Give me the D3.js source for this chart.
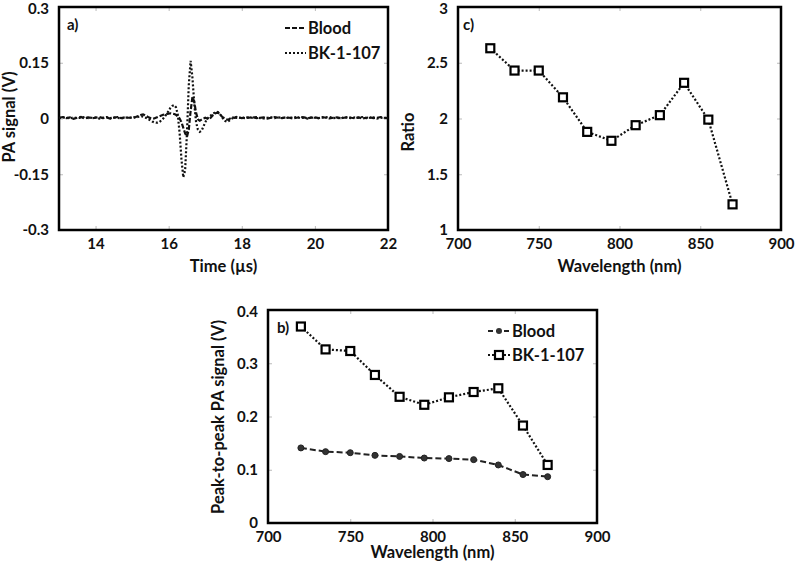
<!DOCTYPE html>
<html><head><meta charset="utf-8">
<script src="https://cdn.jsdelivr.net/npm/d3@7"></script>
<style>
body{margin:0;background:#fff;}
svg text{font-family:Lato,"Open Sans",sans-serif;font-weight:700;fill:#111;}
</style></head>
<body><svg id="c" width="800" height="563"></svg>
<script>
// ---------- DATA ----------
const timeUs = [13.0,13.1,13.2,13.3,13.4,13.5,13.6,13.7,13.8,13.9,14.0,14.1,14.2,14.3,14.4,14.5,14.6,14.7,14.8,14.9,
15.00,15.05,15.10,15.15,15.20,15.25,15.30,15.35,15.40,15.45,15.50,15.55,15.60,15.65,15.70,15.75,15.80,15.85,15.90,15.95,
16.00,16.05,16.10,16.15,16.20,16.25,16.30,16.35,16.40,16.45,16.50,16.55,16.60,16.65,16.70,16.75,16.80,16.85,16.90,16.95,
17.00,17.05,17.10,17.15,17.20,17.25,17.30,17.35,17.40,17.45,17.50,17.55,17.60,17.65,17.70,17.75,17.80,17.85,17.90,17.95,
18.0,18.1,18.2,18.3,18.4,18.5,18.6,18.7,18.8,18.9,19.0,19.1,19.2,19.3,19.4,19.5,19.6,19.7,19.8,19.9,
20.0,20.1,20.2,20.3,20.4,20.5,20.6,20.7,20.8,20.9,21.0,21.1,21.2,21.3,21.4,21.5,21.6,21.7,21.8,21.9,22.0];
const bloodSignal = [0.002,0.004,0.001,0.003,-0.001,0.002,0.004,0.000,0.003,0.001,0.002,0.004,0.001,0.003,0.000,0.002,0.004,0.001,0.003,0.002,
0.002,0.003,0.004,0.006,0.008,0.010,0.011,0.009,0.006,0.003,0.001,-0.001,0.000,0.002,0.004,0.006,0.008,0.010,0.011,0.012,
0.013,0.014,0.013,0.012,0.010,0.006,0.000,-0.010,-0.025,-0.040,-0.049,-0.030,0.020,0.058,0.045,0.015,-0.002,-0.006,-0.003,0.000,
0.002,0.000,-0.002,0.002,0.008,0.012,0.015,0.016,0.012,0.006,0.002,-0.001,-0.003,-0.002,0.001,0.003,0.002,0.004,0.003,0.002,
0.001,0.003,0.002,0.004,0.001,0.002,0.003,0.000,0.002,0.004,0.002,0.001,0.003,0.002,0.000,0.002,0.004,0.003,0.001,0.002,
0.003,0.001,0.004,0.002,0.000,0.002,0.003,0.001,0.002,0.004,0.002,0.001,0.003,0.000,0.002,0.003,0.001,0.002,0.004,0.002,0.001];
const bkSignal = [0.001,0.003,0.002,0.000,0.003,0.001,0.002,0.004,0.001,0.002,0.003,0.000,0.002,0.004,0.001,0.003,0.002,0.000,0.002,0.003,
0.002,0.003,0.002,0.004,0.005,0.006,0.005,0.003,0.001,-0.002,-0.005,-0.008,-0.010,-0.011,-0.011,-0.009,-0.005,0.000,0.006,0.013,
0.021,0.029,0.034,0.036,0.030,0.010,-0.040,-0.110,-0.158,-0.140,-0.040,0.090,0.155,0.110,0.040,-0.010,-0.030,-0.036,-0.033,-0.022,
-0.010,-0.002,0.004,0.008,0.012,0.015,0.018,0.017,0.012,0.005,-0.002,-0.007,-0.009,-0.006,-0.002,0.001,0.003,0.002,0.003,0.002,
0.002,0.001,0.003,0.002,0.004,0.001,0.000,0.002,0.003,0.001,0.003,0.002,0.001,0.003,0.002,0.004,0.001,0.002,0.000,0.003,
0.002,0.001,0.002,0.003,0.004,0.001,0.002,0.000,0.003,0.002,0.001,0.003,0.002,0.004,0.001,0.002,0.003,0.000,0.002,0.001,0.003];

const wavelengths = [720,735,750,765,780,795,810,825,840,855,870];
const bloodP2P = [0.141,0.134,0.132,0.127,0.125,0.122,0.121,0.119,0.109,0.091,0.087];
const bkP2P    = [0.369,0.326,0.323,0.278,0.237,0.222,0.236,0.246,0.253,0.183,0.109];
const ratio    = [2.63,2.43,2.43,2.19,1.88,1.80,1.94,2.03,2.32,1.99,1.23];

const timeTicks = [14,16,18,20,22];
const signalTicks = [-0.3,-0.15,0,0.15,0.3];
const signalTickLabels = ["-0.3","-0.15","0","0.15","0.3"];
const wlTicks = [700,750,800,850,900];
const ratioTicks = [1,1.5,2,2.5,3];
const ratioTickLabels = ["1","1.5","2","2.5","3"];
const p2pTicks = [0,0.1,0.2,0.3,0.4];
const p2pTickLabels = ["0","0.1","0.2","0.3","0.4"];
const seriesNames = ["Blood","BK-1-107"];

// ---------- DRAW ----------
const svg = d3.select("#c");
const FS = 15, FT = 16.5;
const dashBlood = "6,3", dotBK = "2,2";

function panel(o){
  const g = svg.append("g");
  const x = d3.scaleLinear().domain(o.xd).range([o.l,o.r]);
  const y = d3.scaleLinear().domain(o.yd).range([o.b,o.t]);
  const tickStyle = sel => { sel.select(".domain").remove(); sel.selectAll(".tick line").attr("stroke","#bbb").attr("stroke-width",1); };
  g.append("g").attr("transform",`translate(0,${o.b})`)
    .call(d3.axisBottom(x).tickValues(o.xt).tickSize(-4).tickPadding(8).tickFormat(d3.format("d")))
    .call(tickStyle).call(s=>s.selectAll("text").attr("font-size",FS).attr("dy","0.71em"));
  g.append("g").attr("transform",`translate(0,${o.t})`)
    .call(d3.axisTop(x).tickValues(o.xt).tickSize(-4).tickFormat(""))
    .call(tickStyle);
  g.append("g").attr("transform",`translate(${o.l},0)`)
    .call(d3.axisLeft(y).tickValues(o.yt).tickSize(-4).tickPadding(10).tickFormat((d,i)=>o.ytl[i]))
    .call(tickStyle).call(s=>s.selectAll("text").attr("font-size",FS).attr("dy",(d,i)=>i===o.yt.length-1?"0.42em":"0.32em"));
  g.append("g").attr("transform",`translate(${o.r},0)`)
    .call(d3.axisRight(y).tickValues(o.yt).tickSize(-4).tickFormat(""))
    .call(tickStyle);
  g.append("rect").attr("x",o.l).attr("y",o.t).attr("width",o.r-o.l).attr("height",o.b-o.t)
    .attr("fill","none").attr("stroke","#000").attr("stroke-width",2.5);
  g.append("text").attr("x",(o.l+o.r)/2).attr("y",o.xlabY).attr("text-anchor","middle").attr("font-size",FT).text(o.xlab);
  g.append("text").attr("transform",`translate(${o.ylabX},${o.ylabYc}) rotate(-90)`).attr("text-anchor","middle")
    .attr("font-size",FT).text(o.ylab);
  g.append("text").attr("x",o.tagX).attr("y",o.tagY).attr("font-size",FS).text(o.tag);
  return {g,x,y};
}

function square(g,cx,cy){
  g.append("rect").attr("x",cx-4).attr("y",cy-4).attr("width",8).attr("height",8)
   .attr("fill","#fff").attr("stroke","#000").attr("stroke-width",2.2);
}

// Panel a
{
  const p = panel({l:59,r:388,t:7,b:230,xd:[13,22],yd:[-0.3,0.3],xt:timeTicks,yt:signalTicks,ytl:signalTickLabels,
    xlab:"Time (µs)",xlabY:272,ylab:"PA signal (V)",ylabX:15,ylabYc:117,tag:"a)",tagX:67,tagY:30});
  const line = d3.line().x((d,i)=>p.x(timeUs[i])).y(d=>p.y(d));
  p.g.append("path").datum(bloodSignal).attr("d",line).attr("fill","none").attr("stroke","#111")
    .attr("stroke-width",2.2).attr("stroke-dasharray","5,2");
  p.g.append("path").datum(bkSignal).attr("d",line).attr("fill","none").attr("stroke","#111")
    .attr("stroke-width",2.2).attr("stroke-dasharray",dotBK);
  const ly = [28,53], da = ["5,2",dotBK];
  seriesNames.forEach((n,i)=>{
    p.g.append("line").attr("x1",285).attr("x2",306).attr("y1",ly[i]).attr("y2",ly[i])
      .attr("stroke","#111").attr("stroke-width",2).attr("stroke-dasharray",da[i]);
    p.g.append("text").attr("x",308).attr("y",ly[i]).attr("dy","0.36em").attr("font-size",FT).text(n);
  });
}

// Panel c
{
  const p = panel({l:458,r:781,t:7,b:230,xd:[700,900],yd:[1,3],xt:wlTicks,yt:ratioTicks,ytl:ratioTickLabels,
    xlab:"Wavelength (nm)",xlabY:272,ylab:"Ratio",ylabX:414,ylabYc:132,tag:"c)",tagX:463,tagY:30});
  const line = d3.line().x((d,i)=>p.x(wavelengths[i])).y(d=>p.y(d));
  p.g.append("path").datum(ratio).attr("d",line).attr("fill","none").attr("stroke","#111")
    .attr("stroke-width",2.2).attr("stroke-dasharray",dotBK);
  ratio.forEach((v,i)=>square(p.g,p.x(wavelengths[i]),p.y(v)));
}

// Panel b
{
  const p = panel({l:268,r:597,t:310,b:523,xd:[700,900],yd:[0,0.4],xt:wlTicks,yt:p2pTicks,ytl:p2pTickLabels,
    xlab:"Wavelength (nm)",xlabY:558,ylab:"Peak-to-peak PA signal (V)",ylabX:224,ylabYc:417,tag:"b)",tagX:277,tagY:333});
  const line = d3.line().x((d,i)=>p.x(wavelengths[i])).y(d=>p.y(d));
  p.g.append("path").datum(bloodP2P).attr("d",line).attr("fill","none").attr("stroke","#222")
    .attr("stroke-width",2).attr("stroke-dasharray",dashBlood);
  p.g.append("path").datum(bkP2P).attr("d",line).attr("fill","none").attr("stroke","#111")
    .attr("stroke-width",2.2).attr("stroke-dasharray",dotBK);
  bloodP2P.forEach((v,i)=>p.g.append("circle").attr("cx",p.x(wavelengths[i])).attr("cy",p.y(v)).attr("r",3)
    .attr("fill","#333").attr("stroke","#222").attr("stroke-width",1));
  bkP2P.forEach((v,i)=>square(p.g,p.x(wavelengths[i]),p.y(v)));
  const ly = [331,355];
  p.g.append("line").attr("x1",488).attr("x2",510).attr("y1",ly[0]).attr("y2",ly[0])
    .attr("stroke","#222").attr("stroke-width",2).attr("stroke-dasharray","5,3");
  p.g.append("circle").attr("cx",499).attr("cy",ly[0]).attr("r",3).attr("fill","#333");
  p.g.append("line").attr("x1",488).attr("x2",510).attr("y1",ly[1]).attr("y2",ly[1])
    .attr("stroke","#111").attr("stroke-width",2).attr("stroke-dasharray",dotBK);
  square(p.g,499,ly[1]);
  seriesNames.forEach((n,i)=>p.g.append("text").attr("x",512).attr("y",ly[i]).attr("dy","0.36em").attr("font-size",FT).text(n));
}
</script></body></html>
